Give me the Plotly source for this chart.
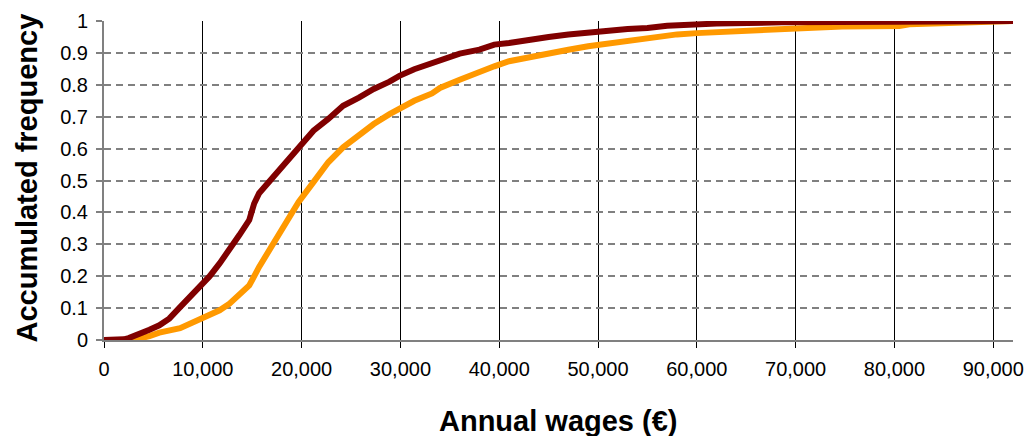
import plotly.graph_objects as go

# Annual wages (euros) and accumulated frequency
wages_dark = [0, 1000, 2000, 2500, 3600, 4600, 5600, 6600, 7700, 8700, 9700, 10700,
              11700, 12700, 13700, 14700, 15200, 15700, 16700, 17700, 18700, 19700,
              21200, 22700, 24200, 25800, 27300, 28900, 29900, 31400, 33200, 34000,
              36000, 38000, 39500, 41000, 43000, 45000, 47000, 49000, 51000, 53000,
              55000, 57000, 62000, 68600, 80000, 92000]
freq_dark = [0, 0, 0.002, 0.006, 0.018, 0.032, 0.046, 0.067, 0.103, 0.135, 0.163, 0.2,
             0.24, 0.281, 0.329, 0.376, 0.428, 0.46, 0.496, 0.533, 0.564, 0.6,
             0.656, 0.693, 0.734, 0.76, 0.787, 0.81, 0.828, 0.849, 0.868, 0.879,
             0.898, 0.91, 0.926, 0.931, 0.942, 0.95, 0.958, 0.965, 0.968, 0.975,
             0.978, 0.985, 0.992, 0.996, 0.998, 1.0]

wages_orange = [0, 2900, 4600, 5600, 7700, 8700, 9700, 10700, 11700, 12700, 13700,
                14700, 15700, 16700, 17700, 18700, 19700, 21200, 22700, 24200, 25800,
                27300, 28900, 29900, 31400, 33200, 34000, 36000, 38000, 39500, 41000,
                43000, 45000, 47000, 49000, 51000, 53000, 55000, 58000, 60000, 63500,
                69600, 74700, 80500, 81500, 92000]
freq_orange = [0, 0, 0.012, 0.023, 0.037, 0.05, 0.065, 0.078, 0.093, 0.114, 0.14,
               0.171, 0.229, 0.281, 0.334, 0.386, 0.433, 0.495, 0.557, 0.604, 0.641,
               0.677, 0.708, 0.724, 0.75, 0.773, 0.79, 0.816, 0.842, 0.858, 0.874,
               0.887, 0.898, 0.91, 0.921, 0.929, 0.939, 0.944, 0.958, 0.962, 0.968,
               0.977, 0.983, 0.984, 0.99, 1.0]

x_ticks = [0, 10000, 20000, 30000, 40000, 50000, 60000, 70000, 80000, 90000]
y_ticks = [0, 0.1, 0.2, 0.3, 0.4, 0.5, 0.6, 0.7, 0.8, 0.9, 1]
x_title = "Annual wages (€)"
y_title = "Accumulated frequency"

fig = go.Figure()
fig.add_trace(go.Scatter(x=wages_orange, y=freq_orange, mode="lines",
                         line=dict(color="#FF9900", width=6), cliponaxis=False,
                         showlegend=False))
fig.add_trace(go.Scatter(x=wages_dark, y=freq_dark, mode="lines",
                         line=dict(color="#800000", width=6), cliponaxis=False,
                         showlegend=False))

font_family = "Liberation Sans, Arial, sans-serif"
fig.update_layout(
    width=1027, height=428,
    margin=dict(l=96, r=22, t=13, b=96, autoexpand=False),
    paper_bgcolor="white", plot_bgcolor="white",
    font=dict(family=font_family, color="black"),
    xaxis=dict(range=[0, 92000], tickvals=x_ticks, tickformat=",d",
               showgrid=True, gridcolor="black", gridwidth=1,
               showline=True, linecolor="#808080", linewidth=2,
               ticks="outside", ticklen=6, tickcolor="black", tickwidth=1,
               tickfont=dict(size=20, family=font_family), ticklabelstandoff=4,
               zeroline=False, automargin=False),
    yaxis=dict(range=[0, 1], tickvals=y_ticks,
               showgrid=True, gridcolor="#808080", gridwidth=1.5, griddash="7px,5px",
               showline=True, linecolor="#808080", linewidth=2,
               ticks="outside", ticklen=6, tickcolor="#808080", tickwidth=1.5,
               tickfont=dict(size=20, family=font_family), ticklabelstandoff=4,
               zeroline=False, automargin=False),
    annotations=[
        dict(text=f"<b>{x_title}</b>", xref="paper", yref="paper", x=0.5, y=0,
             xanchor="center", yanchor="middle", yshift=-81, showarrow=False,
             font=dict(size=29, family=font_family, color="black")),
        dict(text=f"<b>{y_title}</b>", xref="paper", yref="paper", x=0, y=0.5,
             xanchor="center", yanchor="middle", xshift=-78, yshift=2, textangle=-90,
             showarrow=False, font=dict(size=29, family=font_family, color="black")),
    ],
)

fig.write_html("out.html")
